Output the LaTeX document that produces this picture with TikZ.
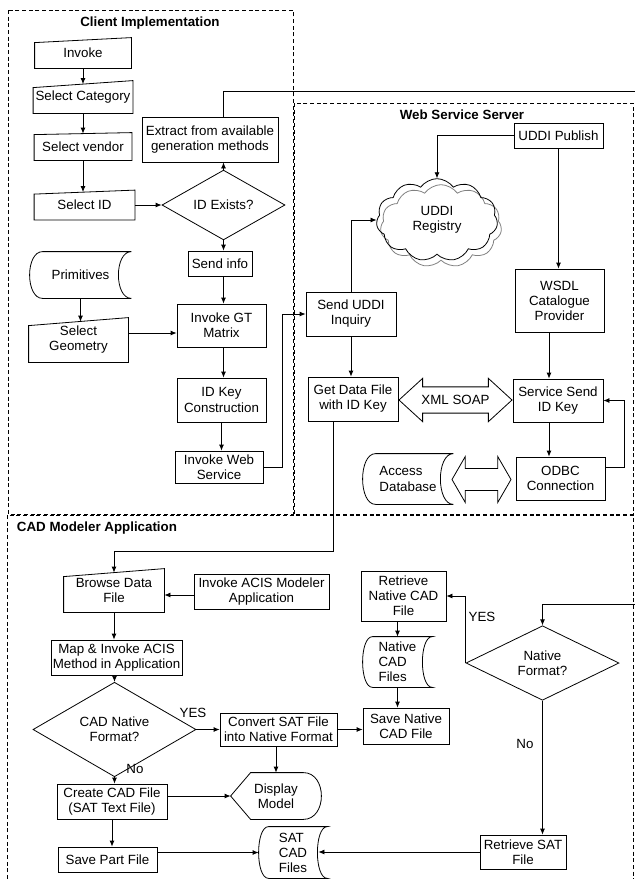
\documentclass[tikz,border=0pt]{standalone}
\usepackage{fontspec}
\setmainfont{Liberation Sans}
\usepackage{tikz}
\usetikzlibrary{shapes.geometric,shapes.symbols,shapes.arrows,arrows.meta,calc}

\tikzset{
  txt/.style={inner sep=0.75pt, align=center, font=\fontsize{10}{11.3}\selectfont},
  box/.style={txt, draw, rectangle},
  decision/.style={txt, draw, diamond, inner sep=0pt},
  ttl/.style={txt, font=\fontsize{10}{11.3}\selectfont\bfseries},
  region/.style={dash pattern=on 3pt off 2pt, line width=0.7pt},
  uddicloud/.style={cloud, cloud puffs=11, cloud puff arc=110, aspect=1.5, minimum width=91pt, minimum height=62pt},
}

\begin{document}
\begin{tikzpicture}[x=0.75pt,y=0.75pt,yscale=-1,xscale=1, line width=0.6pt, >={Latex[length=4.5pt,width=3.75pt]}]
%set diagram left start at 0, and has height of 879
\useasboundingbox (0,0) rectangle (635,879);

%Regions
\draw [region] (8,10) rectangle (293,514) ;
\draw [region] (294,103) rectangle (633,514) ;
\draw [region] (7,879) -- (7,515) -- (633,515) -- (633,879) ;

% Text Node
\node [ttl] (ttlc) at (150,23) {Client Implementation};
% Text Node
\node [ttl] (ttlw) at (462,115) {Web Service Server};
% Text Node
\node [ttl] (ttla) at (97,528) {CAD Modeler Application};

%Flowchart: Manual Input
\node [txt, minimum width=72pt, minimum height=22.5pt] (inv) at (83,53) {Invoke};
\node [txt, minimum width=74.25pt, minimum height=24pt] (cat) at (83,97) {Select Category};
\node [txt, minimum width=72.75pt, minimum height=20.25pt] (ven) at (83,146.5) {Select vendor};
\node [txt, minimum width=75pt, minimum height=21.75pt] (sid) at (84.5,205) {Select ID};
\node [txt, minimum width=74.25pt, minimum height=33pt] (geo) at (78.5,340) {Select\\Geometry};
\node [txt, minimum width=75pt, minimum height=32.25pt] (brw) at (114,590.5) {Browse Data\\File};
\foreach \n/\s in {inv/5,cat/7,ven/2,sid/4,geo/8,brw/8}
  \draw (\n.south west) -- ($(\n.north west)+(0,\s)$) -- (\n.north east) -- (\n.south east) -- cycle ;

%Flowchart: Stored Data
\node [txt, minimum width=75.75pt, minimum height=34.5pt] (prim) at (80.5,275) {Primitives};
\node [txt, minimum width=67.5pt, minimum height=37.5pt, align=left] (acc) at (408,479) {Access\\Database};
\node [txt, minimum width=51.75pt, minimum height=37.5pt, align=left] (ncf) at (397.5,662) {Native\\CAD\\Files};
\node [txt, minimum width=51pt, minimum height=38.25pt, align=left] (satf) at (293,852.5) {SAT\\CAD\\Files};
\foreach \n/\a in {prim/13,acc/13,ncf/10,satf/10}
  \draw ($(\n.north west)+(\a,0)$) -- (\n.north east)
    .. controls ($(\n.north east)+(-4*\a/3,0)$) and ($(\n.south east)+(-4*\a/3,0)$) .. (\n.south east)
    -- ($(\n.south west)+(\a,0)$)
    .. controls ($(\n.south west)+(-\a/3,0)$) and ($(\n.north west)+(-\a/3,0)$) .. ($(\n.north west)+(\a,0)$) -- cycle ;

%Shape: Rectangle
\node [box, minimum width=102pt, minimum height=33.75pt] (ext) at (210,139.5) {Extract from available\\generation methods};
\node [box, minimum width=48pt, minimum height=18.75pt] (snd) at (220,263.5) {Send info};
\node [box, minimum width=66.75pt, minimum height=32.25pt] (gtm) at (221.5,325.5) {Invoke GT\\Matrix};
\node [box, minimum width=66.75pt, minimum height=33pt] (key) at (221.5,400) {ID Key\\Construction};
\node [box, minimum width=66pt, minimum height=24pt] (iws) at (219,467) {Invoke Web\\Service};
\node [box, minimum width=66.75pt, minimum height=18.75pt] (pub) at (558.5,135.5) {UDDI Publish};
\node [box, minimum width=66.75pt, minimum height=47.25pt] (wsdl) at (559.5,300.5) {WSDL\\Catalogue\\Provider};
\node [box, minimum width=67.5pt, minimum height=33pt] (inq) at (351,314) {Send UDDI\\Inquiry};
\node [box, minimum width=67.5pt, minimum height=33pt] (gdf) at (353,399) {Get Data File\\with ID Key};
\node [box, minimum width=67.5pt, minimum height=32.25pt] (ssk) at (558,400.5) {Service Send\\ID Key};
\node [box, minimum width=66.75pt, minimum height=32.25pt] (odbc) at (560.5,478.5) {ODBC\\Connection};
\node [box, minimum width=101.25pt, minimum height=26.25pt] (acis) at (261.5,591.5) {Invoke ACIS Modeler\\Application};
\node [box, minimum width=98.25pt, minimum height=26.25pt] (map) at (116.5,657.5) {Map \& Invoke ACIS\\Method in Application};
\node [box, minimum width=87.75pt, minimum height=24.75pt] (cnv) at (278.5,729.5) {Convert SAT File\\into Native Format};
\node [box, minimum width=64.5pt, minimum height=27pt] (svn) at (406,726) {Save Native\\CAD File};
\node [box, minimum width=82.5pt, minimum height=26.25pt] (ccf) at (112,801.5) {Create CAD File\\(SAT Text File)};
\node [box, minimum width=74.25pt, minimum height=18.75pt] (spf) at (107.5,859.5) {Save Part File};
\node [box, minimum width=63.75pt, minimum height=37.5pt] (rnc) at (403.5,596) {Retrieve\\Native CAD\\File};
\node [box, minimum width=64.5pt, minimum height=25.5pt] (rsf) at (523,852) {Retrieve SAT\\File};

%Flowchart: Decision
\node [decision, minimum width=92.25pt, minimum height=32.25pt] (idq) at (223.5,205) {ID Exists?};
\node [decision, minimum width=122.25pt, minimum height=50.25pt] (cnq) at (114.5,729.5) {CAD Native\\Format?};
\node [decision, minimum width=114.75pt, minimum height=51pt] (nfq) at (542.5,663) {Native\\Format?};

%Flowchart: Display
\node [txt, minimum width=67.5pt, minimum height=34.5pt] (dsp) at (276,796) {Display\\Model};
\draw (dsp.west) -- ($(dsp.north west)+(20,0)$) -- ($(dsp.north east)+(-18,0)$)
  .. controls ($(dsp.north east)+(6,0)$) and ($(dsp.south east)+(6,0)$) .. ($(dsp.south east)+(-18,0)$)
  -- ($(dsp.south west)+(20,0)$) -- cycle ;

%Shape: Cloud
\node [uddicloud, draw=gray] (regsh) at (441,226) {};
\node [uddicloud, draw, txt] (reg) at (437,220) {UDDI\\Registry};

%Left-Right Arrow
\node [txt, draw, double arrow, inner xsep=1pt, inner ysep=6pt, minimum height=84.75pt, minimum width=32.25pt,
  double arrow head extend=6.4pt, double arrow tip angle=85] (soap) at (455.5,400) {XML SOAP};
\node [draw, double arrow, inner xsep=1pt, inner ysep=8pt, minimum height=44.25pt, minimum width=33.75pt,
  double arrow head extend=8.9pt, double arrow tip angle=120] (dbl) at (481.5,479.5) {};

% Text Node
\node [txt] (yes1) at (193,713) {YES};
\node [txt] (no1) at (135,769) {No};
\node [txt] (yes2) at (482,617) {YES};
\node [txt] (no2) at (525,744) {No};

\coordinate (outA) at (635,91);
\coordinate (inB) at (635,604);

%Straight Lines
\draw [->] (inv.south) -- ($(inv.south |- cat.north)+(0,3.5)$) ;
\draw [->] (cat.south) -- ($(cat.south |- ven.north)+(0,1)$) ;
\draw [->] (ven.south) -- ($(ven.south |- sid.north)+(0,2)$) ;
\draw [->] (sid.east) -- (idq.west) ;
\draw [->] (idq.north) -- (idq.north |- ext.south) ;
\draw [->] (idq.south) -- (idq.south |- snd.north) ;
\draw [->] (idq.south |- snd.south) -- (idq.south |- gtm.north) ;
\draw [->] (idq.south |- gtm.south) -- (idq.south |- key.north) ;
\draw [->] (key.south) -- (key.south |- iws.north) ;
\draw [->] (prim.south) -- ($(prim.south |- geo.north)+(0,4)$) ;
\draw [->] (geo.east |- 0,333) -- (gtm.west |- 0,333) ;
\draw [->] (iws.east) -- ++(19,0) |- (inq.west) ;
\draw (idq.north |- ext.north) |- (outA) ;

\draw [->] (pub.west) -| (reg.north) ;
\draw [->] (pub.south) -- (pub.south |- wsdl.north) ;
\draw [->] (inq.north) |- (reg.west) ;
\draw [->] (inq.south) -- (inq.south |- gdf.north) ;
\draw [->] (wsdl.south -| 549,0) -- (ssk.north -| 549,0) ;
\draw [->] (ssk.south -| 549,0) -- (odbc.north -| 549,0) ;
\draw [->] (odbc.east |- 0,467) -- ++(19,0) |- (ssk.east) ;
\draw [->] (gdf.south -| 333,0) -- ++(0,130) -| ($(brw.north)+(0,4)$) ;

\draw [->] (acis.west |- 0,595) -- (brw.east |- 0,595) ;
\draw [->] (brw.south) -- (brw.south |- map.north) ;
\draw [->] (map.south -| cnq.north) -- (cnq.north) ;
\draw [->] (cnq.east) -- (cnq.east -| cnv.west) ;
\draw [->] (cnv.east) -- (cnv.east -| svn.west) ;
\draw [->] (cnq.south) -- (cnq.south |- ccf.north) ;
\draw [->] (ccf.east |- dsp.west) -- (dsp.west) ;
\draw [->] (cnv.south -| dsp.north) -- (dsp.north) ;
\draw [->] (ccf.south) -- (ccf.south |- spf.north) ;
\draw [->] (spf.east |- satf.west) -- (satf.west) ;
\draw [->] (rsf.west) -- ($(rsf.west -| satf.east)+(-9,0)$) ;
\draw [->] (inB) -| (nfq.north) ;
\draw [->] (nfq.west) |- (rnc.east) ;
\draw [->] (rnc.south -| ncf.north) -- (ncf.north) ;
\draw [->] (ncf.south) -- (ncf.south |- svn.north) ;
\draw [->] (nfq.south) -- (nfq.south |- rsf.north) ;

\end{tikzpicture}
\end{document}
